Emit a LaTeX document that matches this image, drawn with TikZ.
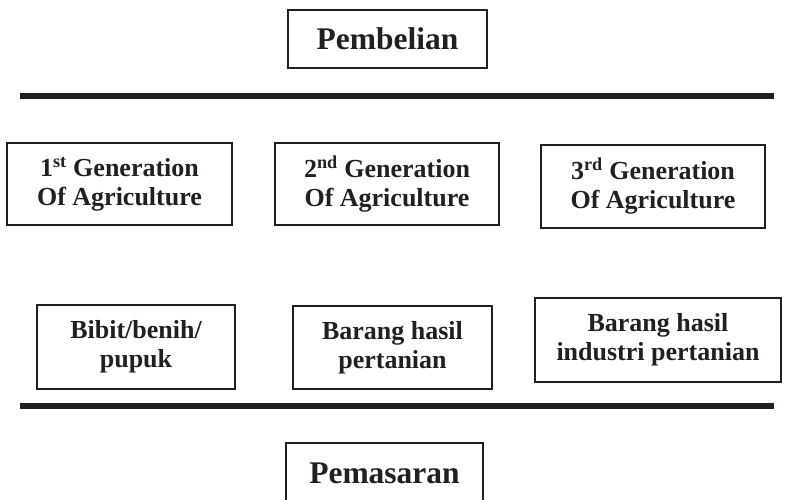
\documentclass[tikz,border=0pt]{standalone}
\usepackage{fontspec}
\setmainfont{Liberation Serif}
\usepackage{tikz}
\usetikzlibrary{positioning}
\definecolor{ink}{HTML}{231F20}

\begin{document}
\begin{tikzpicture}[x=1pt,y=-1pt,line width=1.6pt,
                    font=\bfseries\fontsize{26}{29}\selectfont]
  \tikzstyle{box}=[draw=ink,text=ink,align=center,inner sep=0pt]
  \tikzstyle{big}=[font=\bfseries\fontsize{31.5}{36}\selectfont]
  \tikzstyle{bar}=[draw=ink,line width=6pt]

  \useasboundingbox (0,0) rectangle (787,500);

  \node[box,big,minimum width=199pt,minimum height=58pt] (Beli) at (387.5,39) {Pembelian};
  \node[box,big,minimum width=197pt,minimum height=60pt] (Pasar) at (384.5,473) {Pemasaran};

  \node[box,minimum width=225pt,minimum height=82pt] (G1) at (119.5,184)
       {1\textsuperscript{st} Generation\\Of Agriculture};
  \node[box,minimum width=224pt,minimum height=82pt] (G2) at (387,184)
       {2\textsuperscript{nd} Generation\\Of Agriculture};
  \node[box,minimum width=224pt,minimum height=83pt] (G3) at (653,186.5)
       {3\textsuperscript{rd} Generation\\Of Agriculture};

  \node[box,minimum width=198pt,minimum height=84pt] (B1) at (136,347) {Bibit/benih/\\pupuk};
  \node[box,minimum width=199pt,minimum height=83pt] (B2) at (392.5,347.5) {Barang hasil\\pertanian};
  \node[box,minimum width=246pt,minimum height=84pt] (B3) at (658,340) {Barang hasil\\industri pertanian};

  \coordinate (TopL) at (20,96);
  \coordinate (TopR) at (774,96);
  \coordinate (BotL) at (20,406);
  \coordinate (BotR) at (774,406);
  \draw[bar] (TopL) -- (TopR);
  \draw[bar] (BotL) -- (BotR);
\end{tikzpicture}
\end{document}
